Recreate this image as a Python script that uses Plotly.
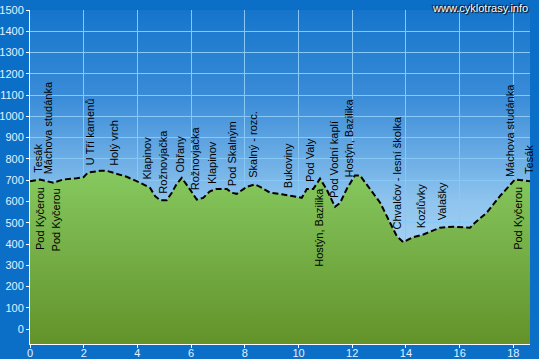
import base64
import numpy as np
import plotly.graph_objects as go

# --- data ---
dist_km = [0.0, 0.37, 0.87, 1.23, 1.74, 1.99, 2.16, 2.61, 2.86, 3.23, 3.6, 4.1, 4.47, 4.66,
           4.84, 5.09, 5.28, 5.45, 5.65, 5.96, 6.21, 6.45, 6.70, 6.95, 7.33, 7.51, 7.70,
           8.07, 8.38, 8.57, 8.94, 9.43, 9.93, 10.12, 10.31, 10.55, 10.80, 11.05, 11.36,
           11.55, 11.80, 12.10, 12.29, 12.54, 13.04, 13.41, 13.66, 13.90, 14.22, 14.65,
           15.27, 15.77, 16.39, 16.57, 17.01, 17.50, 17.88, 18.06, 18.31, 18.62]
elev_m = [695, 703, 688, 703, 709, 714, 736, 744, 744, 731, 716, 688, 664, 625,
          606, 606, 641, 680, 711, 656, 609, 617, 648, 659, 659, 641, 636,
          669, 680, 669, 641, 633, 622, 617, 659, 659, 707, 656, 575,
          594, 660, 722, 722, 680, 594, 500, 437, 409, 430, 445,
          477, 481, 477, 500, 547, 625, 680, 703, 700, 695]

label_names = ["Tesák", "Máchova studánka", "Pod Kyčerou", "Pod Kyčerou", "U Tří kamenů",
               "Holý vrch", "Klapinov", "Rožnovjačka", "Obřany", "Rožnovjačka", "Klapinov",
               "Pod Skalným", "Skalný - rozc.", "Bukoviny", "Pod Valy", "Hostýn, Bazilika",
               "Pod Vodní kaplí", "Hostýn, Bazilika", "Chvalčov - lesní školka", "Kozlůvky",
               "Valašky", "Máchova studánka", "Pod Kyčerou", "Tesák"]
label_km = [0.27, 0.65, 0.37, 0.97, 2.23, 3.1, 4.35, 4.97, 5.59, 6.15, 6.77, 7.55, 8.32,
            9.62, 10.43, 10.76, 11.32, 11.89, 13.68, 14.59, 15.33, 17.9, 18.19, 18.56]
label_above = [True, True, False, False, True, True, True, True, True, True, True, True, True,
               True, True, False, True, True, True, True, True, True, False, True]

x_ticks = [0, 2, 4, 6, 8, 10, 12, 14, 16, 18]
y_ticks = list(range(0, 1501, 100))

X_MAX = 18.62
Y_MIN, Y_MAX = -70, 1500

# sky gradient as an SVG background image
svg = ('<svg xmlns="http://www.w3.org/2000/svg" width="100" height="100" preserveAspectRatio="none">'
       '<defs><linearGradient id="g" x1="0" y1="0" x2="0" y2="1">'
       '<stop offset="0" stop-color="#1575cb"/>'
       '<stop offset="0.26" stop-color="#3a8cd8"/>'
       '<stop offset="0.57" stop-color="#8ec4ee"/>'
       '<stop offset="1" stop-color="#d0ecff"/>'
       '</linearGradient></defs><rect width="100" height="100" fill="url(#g)"/></svg>')
svg_uri = "data:image/svg+xml;base64," + base64.b64encode(svg.encode()).decode()

fig = go.Figure()
fig.add_trace(go.Scatter(x=[0, X_MAX], y=[Y_MIN, Y_MIN], mode="lines",
                         line=dict(width=0), hoverinfo="skip", showlegend=False))
fig.add_trace(go.Scatter(
    x=dist_km, y=elev_m, mode="lines", fill="tonexty",
    fillgradient=dict(type="vertical", start=Y_MIN, stop=750,
                      colorscale=[[0, "#63922a"], [1, "#86c960"]]),
    line=dict(color="black", width=2, dash="6px,3px"),
    showlegend=False))

annotations = []
for name, km, above in zip(label_names, label_km, label_above):
    e = float(np.interp(km, dist_km, elev_m))
    annotations.append(dict(
        x=km, y=e, xref="x", yref="y", text=name, showarrow=False, textangle=-90,
        xanchor="center", yanchor="bottom" if above else "top",
        yshift=5 if above else -5,
        font=dict(family="Arial", size=11, color="black")))

annotations.append(dict(
    x=1, y=1 + 2 / 334, xref="paper", yref="paper", text="www.cyklotrasy.info",
    showarrow=False, xanchor="right", yanchor="middle",
    font=dict(family="Arial", size=11, color="white",
              shadow="1px 1px 1px #000, -1px -1px 1px #000")))

fig.update_layout(
    width=539, height=359,
    margin=dict(l=30, r=9, t=10, b=15),
    paper_bgcolor="#0b6fc7",
    plot_bgcolor="rgba(0,0,0,0)",
    images=[dict(source=svg_uri, xref="paper", yref="paper", x=0, y=1, sizex=1, sizey=1,
                 sizing="stretch", layer="below", xanchor="left", yanchor="top")],
    annotations=annotations,
    xaxis=dict(range=[0, X_MAX], tickvals=x_ticks, showgrid=True, gridcolor="#86c8f6",
               gridwidth=1, zeroline=False, showline=True, linecolor="white", linewidth=1,
               ticks="outside", ticklen=3, tickcolor="white", ticklabelstandoff=-4,
               tickfont=dict(family="Arial", size=11, color="#e4f1ff"), automargin=False),
    yaxis=dict(range=[Y_MIN, Y_MAX], tickvals=y_ticks, showgrid=True, gridcolor="#86c8f6",
               gridwidth=1, zeroline=False, showline=True, linecolor="white", linewidth=1,
               ticks="outside", ticklen=3, tickcolor="white",
               tickfont=dict(family="Arial", size=11, color="#e4f1ff"), automargin=False),
)

fig.write_html("out.html")
